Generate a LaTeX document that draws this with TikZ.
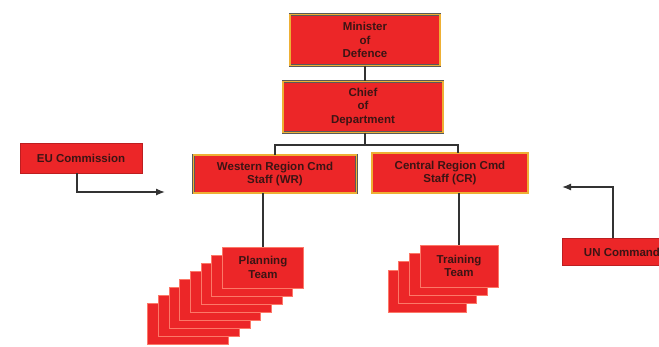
\documentclass[tikz,border=0pt]{standalone}
\usepackage{fontspec}
\usetikzlibrary{arrows.meta}
\setmainfont{Liberation Sans}
\definecolor{boxred}{RGB}{236,38,40}
\definecolor{boxrim}{RGB}{238,176,52}
\definecolor{cardline}{RGB}{252,120,104}
\definecolor{textdark}{RGB}{60,20,20}
\tikzset{
  orgbox/.style={fill=boxred, draw=black!65, double=boxrim, double distance=1.4pt,
    text=textdark, font=\fontsize{11.5}{13.5}\selectfont\bfseries, align=center, inner sep=2pt},
  sidebox/.style={fill=boxred, draw=boxred!80!black, text=textdark,
    font=\fontsize{11.5}{13.5}\selectfont\bfseries, align=center},
  card/.style={fill=boxred, draw=cardline, line width=0.8pt, text=textdark,
    font=\fontsize{11.5}{13.5}\selectfont\bfseries, align=center},
  link/.style={draw=black!80, line width=1.3pt},
  tip/.style={-{Latex[length=9pt,width=7pt]}}
}
\begin{document}
\begin{tikzpicture}[x=1pt, y=-1pt]
    \useasboundingbox[fill=white] (0,0) rectangle (659,346);
    % top of the chain
    \node(min)     at (365,40)  [orgbox, minimum width=150, minimum height=51] {Minister\\of\\Defence};
    \node(chief)   at (363,107) [orgbox, minimum width=160, minimum height=51] {Chief\\of\\Department};
    \node(west)    at (275,174) [orgbox, minimum width=163, minimum height=38] {Western Region Cmd\\Staff (WR)};
    \node(central) at (450,173) [orgbox, minimum width=156, minimum height=40] {Central Region Cmd\\Staff (CR)};
    % outside bodies
    \node(eu) at (81,158)  [sidebox, minimum width=122, minimum height=30] {EU Commission};
    \node(un) at (622,252) [sidebox, minimum width=120, minimum height=27] {UN Command};
    % team stacks, back to front
    \foreach \i in {7,...,1}
        \node(plan-\i) at (263-10.7*\i, 267.5+8.1*\i) [card, minimum width=81, minimum height=41] {};
    \node(plan) at (263,267.5) [card, minimum width=81, minimum height=41] {Planning\\Team};
    \foreach \i in {3,...,1}
        \node(train-\i) at (459-10.7*\i, 266+8.3*\i) [card, minimum width=78, minimum height=42] {};
    \node(train) at (459,266) [card, minimum width=78, minimum height=42] {Training\\Team};
    % connectors
    \coordinate(split) at (365,145);
    \coordinate(euend) at (165,192);
    \coordinate(unend) at (562,187);
    \draw[link] (min.south) -- (min.south |- chief.north);
    \draw[link] (chief.south -| split) -- (split);
    \draw[link] (west.north) |- (split);
    \draw[link] ([xshift=8]central.north) |- (split);
    \draw[link] (plan.north) -- (plan.north |- west.south);
    \draw[link] (train.north) -- (train.north |- central.south);
    \draw[link, tip] ([xshift=-4]eu.south) |- (euend);
    \draw[link, tip] ([xshift=-9]un.north) |- (unend);
\end{tikzpicture}
\end{document}
